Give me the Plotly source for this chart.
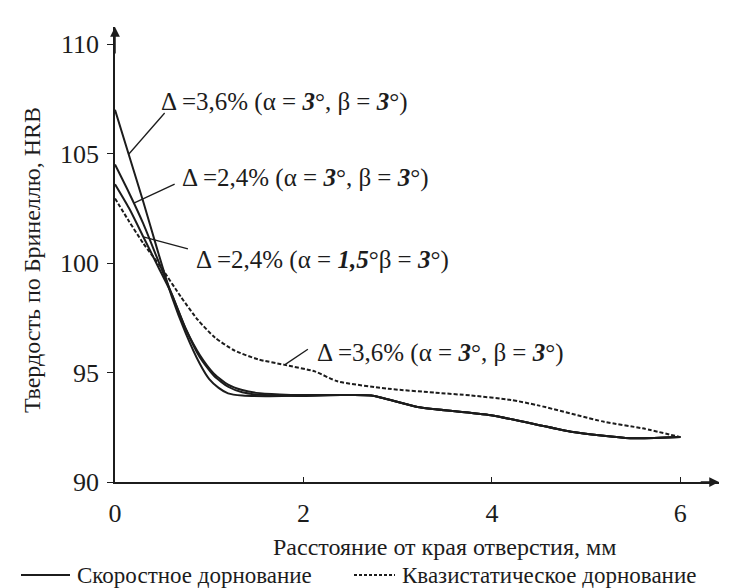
import numpy as np
import plotly.graph_objects as go

# ---------------- data ----------------
x_fast = [0, 0.15, 0.3, 0.45, 0.6, 0.75, 0.9, 1.0, 1.1, 1.2, 1.35, 1.6, 2.0, 2.4, 2.72, 3.21, 3.99, 4.84, 5.47, 6.0]
hrb_36_a3 = [107.0, 104.9, 102.8, 100.6, 98.5, 96.8, 95.4, 94.7, 94.3, 94.05, 93.95, 93.92, 93.95, 93.97, 93.95, 93.43, 93.05, 92.3, 92.0, 92.05]

x_fast2 = [0, 0.15, 0.3, 0.45, 0.6, 0.75, 0.9, 1.05, 1.2, 1.35, 1.5, 1.75, 2.0, 2.4, 2.72, 3.21, 3.99, 4.84, 5.47, 6.0]
hrb_24_a3 = [104.5, 103.2, 101.8, 100.2, 98.6, 97.0, 95.8, 94.95, 94.45, 94.2, 94.07, 94.0, 93.97, 93.97, 93.95, 93.43, 93.05, 92.3, 92.0, 92.05]
hrb_24_a15 = [103.6, 102.5, 101.2, 99.9, 98.6, 97.0, 95.7, 94.85, 94.35, 94.1, 94.0, 93.95, 93.93, 93.97, 93.95, 93.43, 93.05, 92.3, 92.0, 92.05]

x_quasi = [0, 0.15, 0.3, 0.49, 0.7, 0.88, 1.06, 1.27, 1.52, 1.8, 2.12, 2.36, 2.9, 3.4, 3.78, 4.2, 4.49, 5.19, 5.6, 6.0]
hrb_quasi = [102.95, 101.9, 100.9, 99.8, 98.45, 97.4, 96.6, 96.0, 95.6, 95.35, 95.05, 94.6, 94.26, 94.08, 93.95, 93.75, 93.5, 92.75, 92.45, 92.05]

x_ticks = [0, 2, 4, 6]
y_ticks = [90, 95, 100, 105, 110]

legend_fast = "Скоростное дорнование"
legend_quasi = "Квазистатическое дорнование"
x_title = "Расстояние от края отверстия, мм"
y_title = "Твердость по Бринеллю, HRB"

lab_36 = "Δ =3,6% (α = <b><i>3</i></b>°, β = <b><i>3</i></b>°)"
lab_24 = "Δ =2,4% (α = <b><i>3</i></b>°, β = <b><i>3</i></b>°)"
lab_15 = "Δ =2,4% (α = <b><i>1,5</i></b>°β = <b><i>3</i></b>°)"

FONT = "Liberation Serif"
INK = "#1c1c1c"

W, H = 731, 588
ML, MR, MT, MB = 107, 20, 19, 114
PW, PH = W - ML - MR, H - MT - MB


def px_x(px):
    return (px - ML) / PW


def px_y(py):
    return (H - MB - py) / PH


fig = go.Figure()
solid = dict(color=INK, width=2, shape="spline", smoothing=0.6)
for ys, xs in [(hrb_36_a3, x_fast), (hrb_24_a3, x_fast2), (hrb_24_a15, x_fast2)]:
    fig.add_trace(go.Scatter(x=xs, y=ys, mode="lines", line=solid, name=legend_fast, showlegend=False))
fig.add_trace(go.Scatter(x=x_quasi, y=hrb_quasi, mode="lines",
                         line=dict(color=INK, width=2, dash="4px,2px", shape="spline", smoothing=0.6),
                         name=legend_quasi, showlegend=False))

# annotation labels with leader lines ending on the curves
labels = [
    (lab_36, 0.47, 107.35, 0.527, 106.85, 0.145, x_fast, hrb_36_a3),
    (lab_24, 0.69, 103.9, 0.633, 103.6, 0.2, x_fast2, hrb_24_a3),
    (lab_15, 0.84, 100.13, 0.774, 100.65, 0.3, x_fast2, hrb_24_a15),
    (lab_36, 2.12, 95.91, 2.047, 96.06, 1.8, x_quasi, hrb_quasi),
]
for text, tx, ty, lx0, ly0, lx1, xs, ys in labels:
    fig.add_annotation(x=tx, y=ty, text=text, showarrow=False, xanchor="left", yanchor="middle",
                       font=dict(family=FONT, size=25, color=INK))
    fig.add_shape(type="line", x0=lx0, y0=ly0, x1=lx1, y1=float(np.interp(lx1, xs, ys)),
                  line=dict(color=INK, width=1.3))

# axis arrows
fig.add_annotation(x=6.41, y=90, ax=6.2, ay=90, axref="x", ayref="y", text="", showarrow=True,
                   arrowhead=2, arrowsize=1.3, arrowwidth=1.5, arrowcolor=INK)
fig.add_annotation(x=0, y=110.78, ax=0, ay=109.5, axref="x", ayref="y", text="", showarrow=True,
                   arrowhead=2, arrowsize=1.3, arrowwidth=1.5, arrowcolor=INK)

# axis titles
fig.add_annotation(xref="x", yref="paper", x=3.5, y=px_y(539), text=x_title, showarrow=False,
                   xanchor="center", yanchor="middle", font=dict(family=FONT, size=24, color=INK))
fig.add_annotation(xref="paper", yref="paper", x=px_x(24), y=px_y(252), text=y_title, showarrow=False,
                   textangle=-90, xanchor="center", yanchor="middle",
                   font=dict(family=FONT, size=24, color=INK))

# legend (drawn below the plot)
leg_y = px_y(567)
fig.add_shape(type="line", xref="paper", yref="paper", x0=px_x(13), x1=px_x(62), y0=leg_y, y1=leg_y,
              line=dict(color=INK, width=2))
fig.add_annotation(xref="paper", yref="paper", x=px_x(67), y=leg_y, text=legend_fast, showarrow=False,
                   xanchor="left", yanchor="middle", font=dict(family=FONT, size=23, color=INK))
fig.add_shape(type="line", xref="paper", yref="paper", x0=px_x(346), x1=px_x(387), y0=leg_y, y1=leg_y,
              line=dict(color=INK, width=2, dash="3px,2px"))
fig.add_annotation(xref="paper", yref="paper", x=px_x(392), y=leg_y, text=legend_quasi, showarrow=False,
                   xanchor="left", yanchor="middle", font=dict(family=FONT, size=23, color=INK))

fig.update_layout(
    width=W, height=H,
    margin=dict(l=ML, r=MR, t=MT, b=MB, autoexpand=False),
    paper_bgcolor="white", plot_bgcolor="white",
    font=dict(family=FONT, size=24, color=INK),
    showlegend=False,
    xaxis=dict(range=[0, 6.41], tickvals=x_ticks, ticktext=[str(v) for v in x_ticks],
               showgrid=False, zeroline=False, showline=True, linecolor=INK, linewidth=1.5,
               ticks="inside", ticklen=5, tickcolor=INK, tickfont=dict(family=FONT, size=26),
               ticklabelstandoff=7, automargin=False),
    yaxis=dict(range=[90, 110.78], tickvals=y_ticks, ticktext=[str(v) for v in y_ticks],
               showgrid=False, zeroline=False, showline=True, linecolor=INK, linewidth=1.5,
               ticks="outside", ticklen=6, tickcolor=INK, tickfont=dict(family=FONT, size=26),
               ticklabelstandoff=3, automargin=False),
)

fig.write_html("out.html")
